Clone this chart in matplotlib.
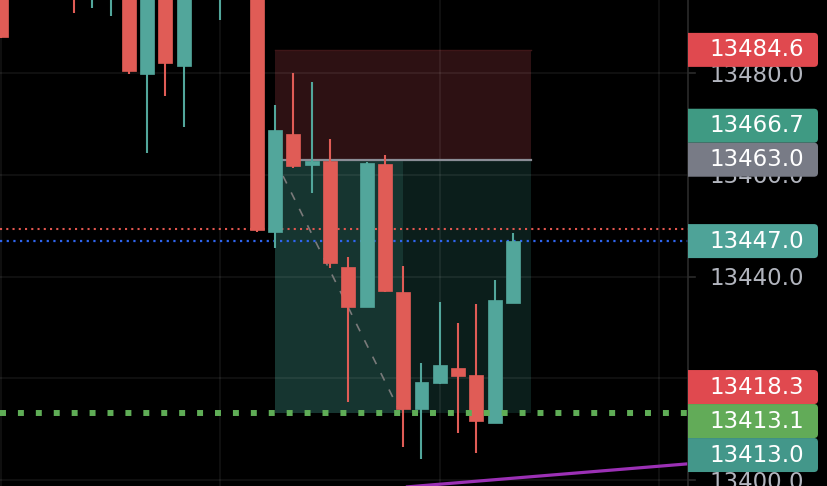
import matplotlib
matplotlib.use("Agg")
import matplotlib.pyplot as plt
from matplotlib.patches import FancyBboxPatch, Rectangle
import numpy as np

# ---------------- data ----------------
opens = [13505, 13496, 13506, 13501, 13501, 13497, 13496, 13500, 13479.8, 13500,
         13481.4, 13505, 13496, 13507, 13500, 13448.85, 13468.0, 13462.0, 13462.8, 13442.0,
         13434.1, 13462.2, 13437.05, 13414.0, 13419.0, 13422.0, 13420.7, 13411.2, 13434.8]
highs = [13508, 13506, 13508, 13503, 13503, 13505, 13504, 13503, 13502, 13503,
         13501, 13507, 13508, 13510, 13503, 13473.7, 13480.0, 13478.2, 13467.0, 13443.9,
         13462.5, 13463.9, 13442.2, 13423.1, 13435.1, 13430.8, 13434.6, 13439.35, 13448.5]
lows = [13486.9, 13495.5, 13497, 13495.8, 13491.9, 13492.8, 13491.3, 13479.9, 13464.3, 13475.5,
        13469.4, 13495.5, 13490.5, 13498, 13448.8, 13445.6, 13461.4, 13456.5, 13441.8, 13415.4,
        13434.0, 13437.0, 13406.6, 13404.2, 13418.9, 13409.3, 13405.4, 13411.2, 13434.8]
closes = [13487.1, 13504, 13499, 13497, 13496, 13503, 13502, 13480.45, 13499, 13482.0,
          13498, 13497, 13506, 13500, 13449.2, 13468.85, 13461.8, 13462.8, 13442.6, 13434.0,
          13462.4, 13437.25, 13413.9, 13419.2, 13422.7, 13420.5, 13411.7, 13435.4, 13447.0]

# long position tool: start/end bar, split bar, stop, entry, target
pos_start, pos_split, pos_end = 15, 22, 29
stop_price = 13484.6
entry_price = 13463.0
target_price = 13413.1

red_dotted_price = 13449.4
current_price = 13447.0
green_dotted_price = 13413.1

# dashed path (bar index, price)
path_x = [15.43, 21.72, 22.37]
path_y = [13459.8, 13414.2, 13413.2]

# purple trend line (bar index, price)
trend_x = [21.83, 37.57]
trend_y = [13398.55, 13403.2]

# price axis tick labels
tick_values = [13480.0, 13460.0, 13440.0, 13420.0, 13400.0]

# price scale labels: value, background colour, pinned
label_values = [13484.6, 13466.7, 13463.0, 13447.0, 13418.3, 13413.1, 13413.0, 13395.0]
label_colors = ['#e0494f', '#3f9a83', '#787b86', '#4ea398', '#e0494f', '#62ab58', '#43978a', '#787b86']
label_pinned = [True, False, True, True, True, False, False, True]

# ---------------- style ----------------
UP = '#52a69b'
DOWN = '#e05c56'
W, H = 828, 486
PLOT_W = 688

fig = plt.figure(figsize=(W / 100, H / 100), dpi=100, facecolor='black')
ax = fig.add_axes([0, 0, PLOT_W / W, 1])
ax.set_facecolor('black')
ax.set_xlim(-0.044, 37.57)
ax.set_ylim(13398.84, 13494.41)
for s in ax.spines.values():
    s.set_visible(False)
ax.set_xticks([])
ax.set_yticks([])

# grid
for v in tick_values:
    ax.axhline(v, color='white', alpha=0.075, lw=1.2, zorder=1)
for xi in [0, 12, 24, 36]:
    ax.axvline(xi, color='white', alpha=0.075, lw=1.2, zorder=1)

# position zones
ax.add_patch(Rectangle((pos_start, entry_price), pos_end - pos_start, stop_price - entry_price,
                       facecolor='#2d1113', edgecolor='none', zorder=0.5))
ax.plot([pos_start, pos_end], [stop_price, stop_price], color='#3e1618', lw=1, zorder=0.6)
ax.add_patch(Rectangle((pos_start, target_price), pos_split - pos_start, entry_price - target_price,
                       facecolor='#163530', edgecolor='none', zorder=0.5))
ax.add_patch(Rectangle((pos_split, target_price), pos_end - pos_split, entry_price - target_price,
                       facecolor='#0b1e1b', edgecolor='none', zorder=0.5))

# dotted price lines
ax.axhline(red_dotted_price, color='#e2564f', lw=1.5, linestyle=(0, (1, 2)), zorder=2)
ax.axhline(current_price, color='#2f66f0', lw=1.6, linestyle=(0, (1, 2)), zorder=2)

# dashed path
ax.plot(path_x, path_y, color='#7a7a7a', lw=1.2, linestyle=(0, (5, 6)), zorder=2)

# entry line
ax.plot([pos_start, pos_end], [entry_price, entry_price], color='#8a8d96', lw=1.6, zorder=2.5)

# candles
n = len(opens)
xs = np.arange(n)
for i in range(n):
    o, h, l, c = opens[i], highs[i], lows[i], closes[i]
    col = UP if c >= o else DOWN
    ax.vlines(xs[i], l, h, color=col, lw=1.5, zorder=3)
    body = max(abs(c - o), 0.15)
    ax.bar(xs[i], body, bottom=min(o, c), width=0.765, color=col, edgecolor=col,
           linewidth=0.5, zorder=4)

# green dotted line (above candles)
ax.axhline(green_dotted_price, color='#5fad56', lw=4.3, linestyle=(0, (1, 2)), zorder=5)

# purple trend line
ax.plot(trend_x, trend_y, color='#9b30b5', lw=2.3, zorder=5, solid_capstyle='butt')

# ---------------- price scale ----------------
fig.canvas.draw()
def to_px(v):
    return ax.transData.transform((0, v))[1]

ax2 = fig.add_axes([PLOT_W / W, 0, (W - PLOT_W) / W, 1])
ax2.set_facecolor('black')
ax2.set_xlim(0, W - PLOT_W)
ax2.set_ylim(0, H)
ax2.set_xticks([])
ax2.set_yticks([])
for k, s in ax2.spines.items():
    s.set_visible(k == 'left')
ax2.spines['left'].set_color('#2b2b2b')
ax2.spines['left'].set_linewidth(1.2)

for v in tick_values:
    y = to_px(v)
    ax2.plot([0, 7], [y, y], color='#2b2b2b', lw=1.2, zorder=1)
    ax2.text(116, y - 2, f"{v:.1f}", color='#b2b5be', fontsize=16.5,
             ha='right', va='center', family='DejaVu Sans', zorder=2)

# resolve label collisions
BOX = 34.0
placed = {}
for i, v in enumerate(label_values):
    if label_pinned[i]:
        placed[i] = to_px(v)
for i, v in enumerate(label_values):
    if label_pinned[i]:
        continue
    y = to_px(v)
    moved = True
    while moved:
        moved = False
        for j, py in placed.items():
            if abs(y - py) < BOX - 0.01:
                if v >= label_values[j]:
                    y = py + BOX
                else:
                    y = py - BOX
                moved = True
    placed[i] = y

for i, v in enumerate(label_values):
    y = placed[i]
    ax2.add_patch(FancyBboxPatch((-8, y - BOX / 2), 138, BOX,
                                 boxstyle="round,pad=0,rounding_size=4",
                                 facecolor=label_colors[i], edgecolor='none', zorder=3))
    ax2.text(116, y, f"{v:.1f}", color='white', fontsize=16.5, ha='right', va='center',
             family='DejaVu Sans', zorder=4)

fig.savefig('out.png', dpi=100, facecolor='black')
